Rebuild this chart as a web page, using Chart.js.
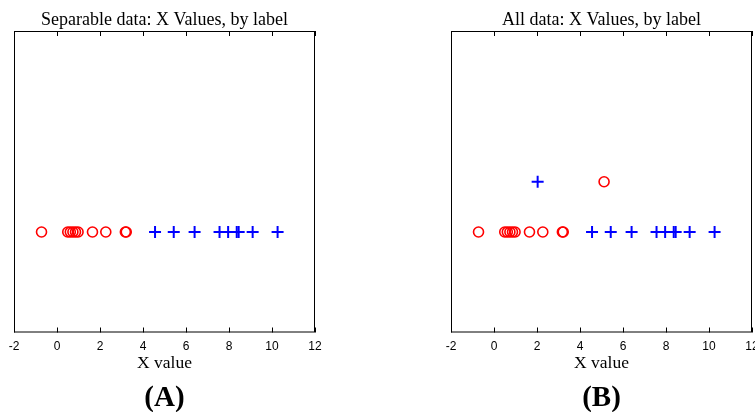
<!DOCTYPE html>
<html>
<head>
<meta charset="utf-8">
<script src="https://cdn.jsdelivr.net/npm/chart.js@4"></script>
<style>
    html, body { margin: 0; padding: 0; background: #fff; overflow: hidden; width: 755px; height: 412px; }
    .panel { position: absolute; top: 0; height: 412px; width: 330px; }
    #panel-a { left: 0; }
    #panel-b { left: 437px; }
</style>
</head>
<body>
<div class="panel" id="panel-a"><canvas id="chart-a"></canvas></div>
<div class="panel" id="panel-b"><canvas id="chart-b"></canvas></div>
<script>
// x values per label
const redX = [-0.72, 0.5, 0.62, 0.74, 0.86, 0.98, 1.65, 2.27, 3.18, 3.22];
const blueX = [4.56, 5.43, 6.4, 7.56, 7.96, 8.36, 8.45, 9.1, 10.26];
// the two points that break separability in panel B
const redExtraX = [5.12];
const blueExtraX = [2.03];
const baseRowY = 0;
const extraRowY = 1;
const xTicks = [-2, 0, 2, 4, 6, 8, 10, 12];

const serif = '"Liberation Serif", "DejaVu Serif", serif';
const sans = '"Liberation Sans", Arial, sans-serif';

// frame with inward tick marks, like a matlab axes box
const boxPlugin = {
    id: 'box',
    afterDraw(chart) {
        const { ctx, chartArea: a, scales } = chart;
        ctx.save();
        ctx.strokeStyle = '#000';
        ctx.lineWidth = 1;
        ctx.strokeRect(a.left + 0.5, a.top + 0.5, a.right - a.left - 1, a.bottom - a.top - 1);
        ctx.beginPath();
        scales.x.ticks.forEach(t => {
            const px = Math.round(scales.x.getPixelForValue(t.value)) + 0.5;
            ctx.moveTo(px, a.bottom);
            ctx.lineTo(px, a.bottom - 5);
            ctx.moveTo(px, a.top);
            ctx.lineTo(px, a.top + 5);
        });
        ctx.stroke();
        ctx.restore();
    }
};

function toPoints(xs, y) {
    return xs.map(x => ({ x: x, y: y }));
}

function makeChart(id, title, panelLabel, redPts, bluePts) {
    return new Chart(document.getElementById(id), {
        type: 'scatter',
        data: {
            datasets: [
                {
                    data: redPts,
                    pointStyle: 'circle',
                    radius: 5,
                    borderColor: '#ff0000',
                    backgroundColor: 'rgba(0,0,0,0)',
                    borderWidth: 1.6
                },
                {
                    data: bluePts,
                    pointStyle: 'cross',
                    radius: 6,
                    borderColor: '#0000ff',
                    backgroundColor: '#0000ff',
                    borderWidth: 2
                }
            ]
        },
        options: {
            responsive: true,
            maintainAspectRatio: false,
            animation: false,
            layout: { padding: { left: 14, right: 15, top: 0, bottom: 0 } },
            plugins: {
                legend: { display: false },
                tooltip: { enabled: false },
                title: {
                    display: true,
                    text: title,
                    color: '#000',
                    font: { family: serif, size: 18, weight: 'normal', lineHeight: 1 },
                    padding: { top: 11, bottom: 2 }
                },
                subtitle: {
                    display: true,
                    position: 'bottom',
                    text: panelLabel,
                    color: '#000',
                    font: { family: serif, size: 29, weight: 'bold', lineHeight: 1 },
                    padding: { top: 12, bottom: -1 }
                }
            },
            scales: {
                x: {
                    type: 'linear',
                    min: -2,
                    max: 12,
                    afterBuildTicks: axis => { axis.ticks = xTicks.map(v => ({ value: v })); },
                    grid: { display: false, drawTicks: false },
                    border: { display: false },
                    ticks: { color: '#000', font: { family: sans, size: 12, lineHeight: 1 }, padding: 8 },
                    title: {
                        display: true,
                        text: 'X value',
                        color: '#000',
                        font: { family: serif, size: 17.5, lineHeight: 1 },
                        padding: { top: -6, bottom: 0 }
                    }
                },
                y: {
                    min: -2,
                    max: 4,
                    display: false
                }
            }
        },
        plugins: [boxPlugin]
    });
}

makeChart('chart-a', 'Separable data: X Values, by label', '(A)',
    toPoints(redX, baseRowY), toPoints(blueX, baseRowY));

makeChart('chart-b', 'All data: X Values, by label', '(B)',
    toPoints(redX, baseRowY).concat(toPoints(redExtraX, extraRowY)),
    toPoints(blueX, baseRowY).concat(toPoints(blueExtraX, extraRowY)));
</script>
</body>
</html>
